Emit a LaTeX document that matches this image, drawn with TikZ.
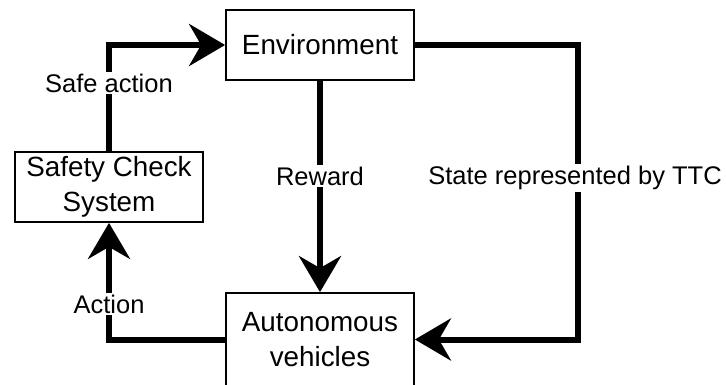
\documentclass[tikz,border=0pt]{standalone}
\usepackage{fontspec}
\setmainfont{Liberation Sans}
\usetikzlibrary{arrows.meta}
\begin{document}
\begin{tikzpicture}[x=1pt,y=-1pt,
  block/.style={draw, line width=1.8pt, inner sep=0pt, align=center,
    minimum width=188pt, minimum height=70pt,
    font=\fontsize{27.8}{35}\selectfont},
  flow/.style={line width=6pt, line join=miter,
    -{Stealth[length=36pt, width=42pt, inset=12pt]}},
  lbl/.style={fill=white, inner sep=2pt, font=\fontsize{25.5}{30}\selectfont}]
  \useasboundingbox (0,0) rectangle (726,385);

  % blocks
  \node[block] (env) at (320,45) {Environment};
  \node[block] (safety) at (109,187) {Safety Check\\System};
  \node[block, minimum height=93pt] (auto) at (320,339.5) {Autonomous\\vehicles};

  % corner of the state loop
  \coordinate (sc) at (578,45);

  % connectors
  \draw[flow] (safety.north) |- (env.west);
  \draw[flow] (env.south) -- (auto.north);
  \draw[flow] (env.east) -- (sc) |- (auto.east);
  \draw[flow] (auto.west) -| (safety.south);

  % connector labels
  \node[lbl] (lsafe) at (109,83) {Safe action};
  \node[lbl] (lrew) at (320,176) {Reward};
  \node[lbl] (lstate) at (575,178) {State represented by TTC};
  \node[lbl] (lact) at (109,304) {Action};
\end{tikzpicture}
\end{document}
